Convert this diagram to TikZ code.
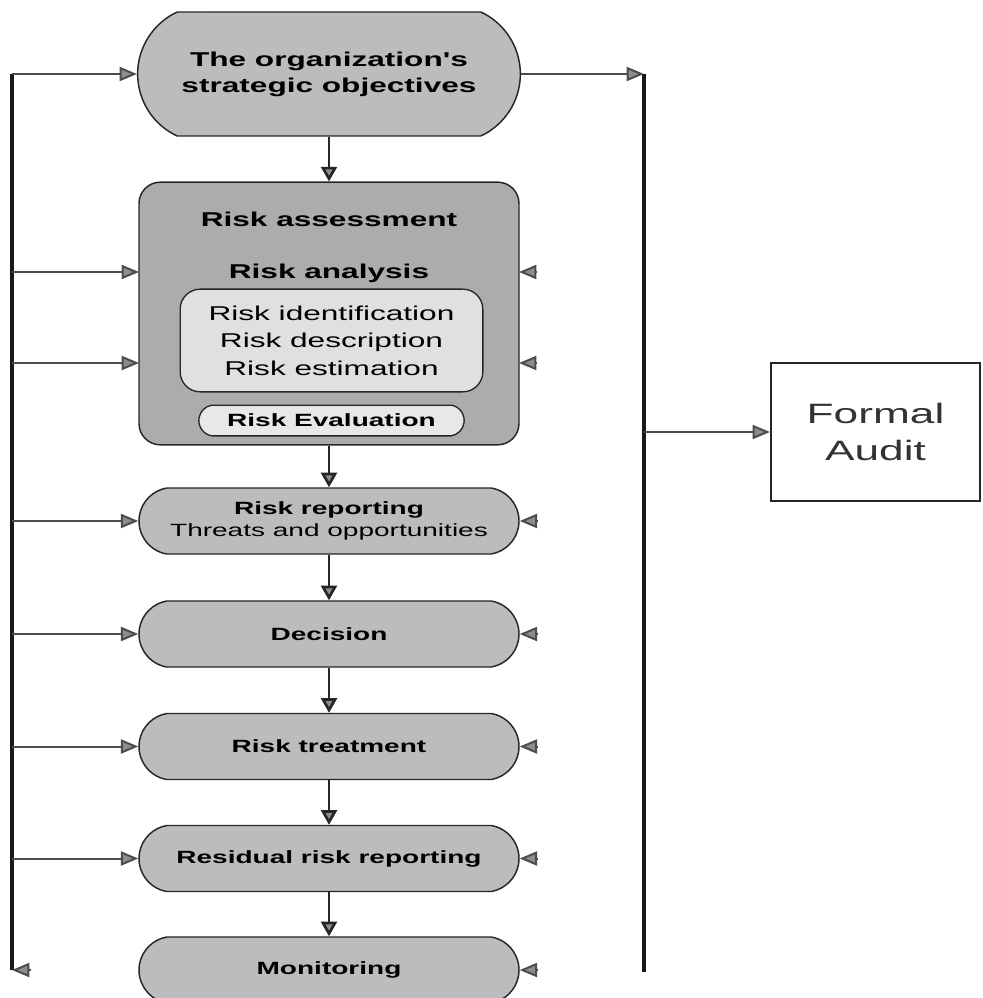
\documentclass[tikz,border=0pt]{standalone}
\usepackage{fontspec}
\usetikzlibrary{arrows.meta,shapes.misc}
\newfontfamily\widesans{Liberation Sans}[FakeStretch=1.58]

\definecolor{pillgray}{RGB}{188,188,188}
\definecolor{boxgray}{RGB}{172,172,172}
\definecolor{innergray}{RGB}{224,224,224}
\definecolor{evalgray}{RGB}{232,232,232}
\definecolor{tipgray}{RGB}{140,140,140}

\tikzset{
  pill/.style={draw=black!85, line width=1.1pt, fill=pillgray, rounded rectangle,
    rounded rectangle arc length=160, minimum width=285pt, minimum height=49.5pt,
    inner sep=0pt, align=center, font=\widesans\fontsize{13.3}{16.5}\selectfont\bfseries},
  headtext/.style={inner sep=0pt, font=\widesans\fontsize{15}{18}\selectfont\bfseries},
  downflow/.style={line width=2pt, draw=black!85, -{Triangle[length=11pt,width=12pt,fill=tipgray]}},
  sidefeed/.style={line width=1.5pt, draw=black!70, -{Triangle[length=13pt,width=10.5pt,fill=tipgray]}},
  mainline/.style={line width=2.4pt, draw=black!90},
}

\begin{document}
\begin{tikzpicture}[x=0.75pt,y=0.75pt,yscale=-1,xscale=1]
\useasboundingbox (0,0) rectangle (982,998);

% process column
\node (obj) at (329,74) [pill, minimum width=287pt, minimum height=93pt, rounded rectangle arc length=130,
  font=\widesans\fontsize{15}{19.5}\selectfont\bfseries] {The organization's\\strategic objectives};

\node (assess) at (329,313.5) [draw=black!85, line width=1.1pt, rounded corners=16pt, fill=boxgray,
  minimum width=285pt, minimum height=197pt] {};
\node (asstxt) at (329,219) [headtext] {Risk assessment};
\node (anatxt) at (329,273) [headtext] {Risk analysis};
\node (steps) at (331.5,340.5) [draw=black!85, line width=1pt, rounded corners=15pt, fill=innergray,
  minimum width=227pt, minimum height=77pt, inner sep=0pt, align=center,
  font=\widesans\fontsize{15}{20.6}\selectfont] {Risk identification\\Risk description\\Risk estimation};
\node (evalu) at (331.5,420.5) [pill, fill=evalgray, line width=1pt, minimum width=199pt, minimum height=23pt] {Risk Evaluation};

\node (report) at (329,521) [pill] {Risk reporting\\{\mdseries Threats and opportunities}};
\node (decide) at (329,634) [pill] {Decision};
\node (treat) at (329,746.5) [pill] {Risk treatment};
\node (resid) at (329,858.5) [pill] {Residual risk reporting};
\node (monit) at (329,970) [pill] {Monitoring};

\node (audit) at (875.5,432) [draw=black!85, line width=1.4pt, minimum width=157pt, minimum height=103.5pt,
  align=center, text=black!80, font=\widesans\fontsize{21}{27.75}\selectfont] {Formal\\Audit};

% loop lines
\coordinate (ltop) at (12,74);
\coordinate (lbot) at (12,970);
\coordinate (rtop) at (644,74);
\coordinate (rbot) at (644,972);
\coordinate (ain) at (139,272);
\coordinate (ain2) at (139,363);
\coordinate (aout) at (519,272);
\coordinate (aout2) at (519,363);

\draw[mainline] (ltop) -- (lbot);
\draw[mainline] (rtop) -- (rbot);

\draw[sidefeed] (ltop) -- (obj.west);
\draw[sidefeed] (obj.east) -- (rtop);
\draw[sidefeed] (ltop |- ain) -- (ain);
\draw[sidefeed] (ltop |- ain2) -- (ain2);
\draw[sidefeed] (ltop |- report.west) -- (report.west);
\draw[sidefeed] (ltop |- decide.west) -- (decide.west);
\draw[sidefeed] (ltop |- treat.west) -- (treat.west);
\draw[sidefeed] (ltop |- resid.west) -- (resid.west);
\draw[sidefeed] ([xshift=14pt]lbot) -- (lbot);

\draw[sidefeed] ([xshift=13pt]aout) -- (aout);
\draw[sidefeed] ([xshift=13pt]aout2) -- (aout2);
\draw[sidefeed] ([xshift=13pt]report.east) -- (report.east);
\draw[sidefeed] ([xshift=13pt]decide.east) -- (decide.east);
\draw[sidefeed] ([xshift=13pt]treat.east) -- (treat.east);
\draw[sidefeed] ([xshift=13pt]resid.east) -- (resid.east);
\draw[sidefeed] ([xshift=13pt]monit.east) -- (monit.east);

\draw[sidefeed] (rtop |- audit.west) -- (audit.west);

% main flow
\draw[downflow] (obj.south) -- (assess.north);
\draw[downflow] (assess.south) -- (report.north);
\draw[downflow] (report.south) -- (decide.north);
\draw[downflow] (decide.south) -- (treat.north);
\draw[downflow] (treat.south) -- (resid.north);
\draw[downflow] (resid.south) -- (monit.north);

\end{tikzpicture}
\end{document}
